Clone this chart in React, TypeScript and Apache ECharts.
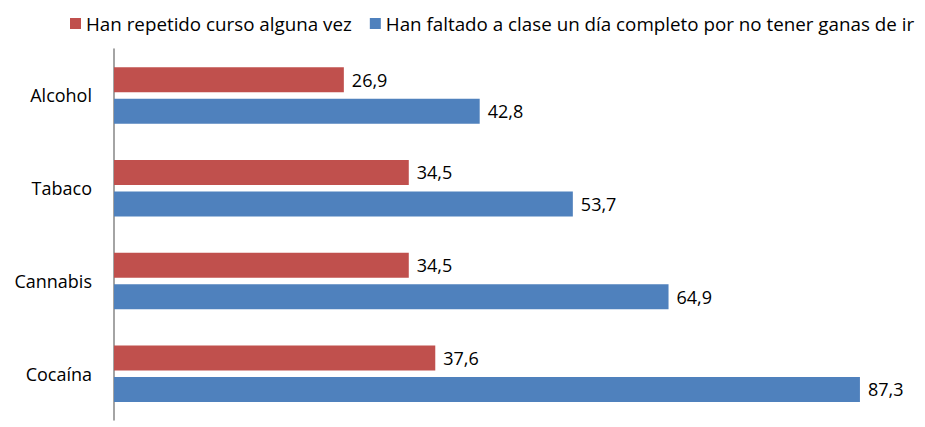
import React, { useEffect, useRef } from "react";
import * as echarts from "echarts";

const categories = ["Alcohol", "Tabaco", "Cannabis", "Cocaína"];
const repetidoValues = [26.9, 34.5, 34.5, 37.6];
const faltadoValues = [42.8, 53.7, 64.9, 87.3];
const seriesNames = [
  "Han repetido curso alguna vez",
  "Han faltado a clase un día completo por no tener ganas de ir",
];

export default function App() {
  const ref = useRef<HTMLDivElement>(null);
  useEffect(() => {
    document.body.style.margin = "0";
    const chart = echarts.init(ref.current!, null, { renderer: "svg" });
    const font = "'Open Sans', 'Noto Sans', sans-serif";
    const label = {
      show: true,
      position: "right",
      distance: 8,
      color: "#000",
      fontSize: 18,
      fontFamily: font,
      formatter: (p: any) => String(p.value).replace(".", ","),
    };
    chart.setOption({
      animation: false,
      backgroundColor: "#fff",
      legend: {
        left: 65,
        top: 9,
        itemWidth: 11,
        itemHeight: 11,
        itemGap: 18,
        icon: "rect",
        textStyle: { fontSize: 18.8, fontFamily: font, color: "#000" },
        data: seriesNames,
      },
      grid: { left: 114, right: 42, top: 49, bottom: 7, containLabel: false },
      xAxis: {
        type: "value",
        min: 0,
        max: 90,
        show: false,
      },
      yAxis: {
        type: "category",
        data: categories,
        inverse: true,
        axisLine: { show: true, lineStyle: { color: "#868686", width: 1.5 } },
        axisTick: { show: false },
        axisLabel: {
          margin: 22,
          fontSize: 18,
          fontFamily: font,
          color: "#000",
          padding: [0, 0, 8, 0],
        },
      },
      series: [
        {
          name: seriesNames[0],
          type: "bar",
          data: repetidoValues,
          barWidth: 25,
          barGap: "26%",
          itemStyle: { color: "#C0504D" },
          label,
        },
        {
          name: seriesNames[1],
          type: "bar",
          data: faltadoValues,
          barWidth: 25,
          itemStyle: { color: "#4F81BD" },
          label,
        },
      ],
    });
    return () => chart.dispose();
  }, []);
  return <div ref={ref} style={{ width: 925, height: 427 }} />;
}
